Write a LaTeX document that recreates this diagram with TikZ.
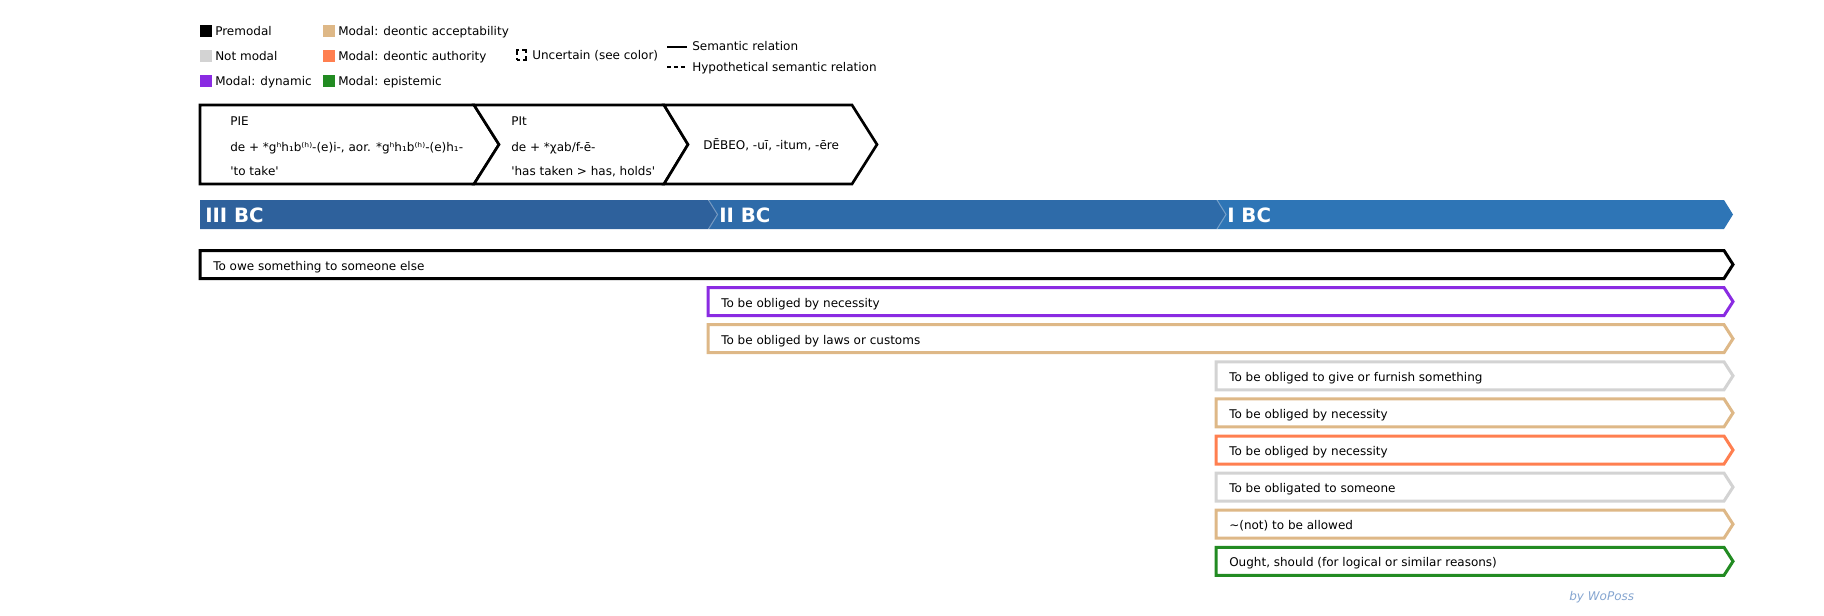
\documentclass[tikz,border=0pt]{standalone}
\usepackage{fontspec}
\setmainfont{DejaVu Sans}
\usepackage{xcolor}
\usepackage{tikz}

\definecolor{premodal}{HTML}{000000}
\definecolor{notmodal}{HTML}{D3D3D3}
\definecolor{dynamic}{HTML}{8A2BE2}
\definecolor{acceptab}{HTML}{DEB887}
\definecolor{authority}{HTML}{FF7F50}
\definecolor{epistemic}{HTML}{228B22}
\definecolor{centuryA}{HTML}{2E619C}
\definecolor{centuryB}{HTML}{2E6BA9}
\definecolor{centuryC}{HTML}{2E75B6}
\definecolor{woposs}{HTML}{85A5D0}

\begin{document}
\begin{tikzpicture}[
    x=0.75pt, y=-0.75pt,
    txt/.style={anchor=west, inner sep=0pt, text height=6.5pt, text depth=0pt, font=\fontsize{9}{10.8}\selectfont},
    swatch/.style={rectangle, minimum size=9pt, inner sep=0pt, outer sep=0pt},
    stage/.style={draw, line width=2pt, fill=white},
    span/.style={line width=2.25pt, fill=white},
    century/.style={anchor=west, inner sep=0pt, text=white, text height=10.7pt, text depth=0pt, font=\fontsize{14.8}{17.5}\selectfont\bfseries}
]
    \useasboundingbox (0,0) rectangle (1824,615);

    % legend
    \node[swatch, fill=premodal] (swpre) at (206,31) {};
    \node[swatch, fill=notmodal] (swnot) at (206,56) {};
    \node[swatch, fill=dynamic] (swdyn) at (206,81) {};
    \node[txt] (lgpre) at (215,31) {Premodal};
    \node[txt] (lgnot) at (215,56) {Not modal};
    \node[txt] (lgdyn) at (215,81) {Modal: dynamic};
    \node[swatch, fill=acceptab] (swacc) at (329,31) {};
    \node[swatch, fill=authority] (swauth) at (329,56) {};
    \node[swatch, fill=epistemic] (swepi) at (329,81) {};
    \node[txt] (lgacc) at (338,31) {Modal: deontic acceptability};
    \node[txt] (lgauth) at (338,56) {Modal: deontic authority};
    \node[txt] (lgepi) at (338,81) {Modal: epistemic};
    \node[swatch, draw, minimum size=7pt, line width=1.5pt, dash pattern=on 5.2pt off 2.2pt, dash phase=2.6pt] (swunc) at (521.5,55) {};
    \node[txt] (lgunc) at (532,55) {Uncertain (see color)};
    \coordinate (semline) at (667,46.5);
    \coordinate (hypline) at (667,67);
    \draw[line width=1.5pt] (semline) -- ++(20,0);
    \draw[line width=1.5pt, dash pattern=on 3pt off 2.2pt] (hypline) -- ++(20,0);
    \node[txt] (lgsem) at (692,46.5) {Semantic relation};
    \node[txt] (lghyp) at (692,67) {Hypothetical semantic relation};

    % etymology stages
    \draw[stage] (200,105) -- (474,105) -- (499,144.5) -- (474,184) -- (200,184) -- cycle;
    \draw[stage] (474,105) -- (664,105) -- (688,144.5) -- (664,184) -- (474,184) -- (499,144.5) -- cycle;
    \draw[stage] (664,105) -- (852,105) -- (877,144.5) -- (852,184) -- (664,184) -- (688,144.5) -- cycle;
    \node[txt] (pie) at (230,121.5) {PIE};
    \node[txt] (pieform) at (230,147) {de + *gʰh₁b⁽ʰ⁾-(e)i-, aor. *gʰh₁b⁽ʰ⁾-(e)h₁-};
    \node[txt] (piegloss) at (230,171.5) {\textquotesingle to take\textquotesingle};
    \node[txt] (pit) at (511,121.5) {PIt};
    \node[txt] (pitform) at (511,147) {de + *χab/f-ē-};
    \node[txt] (pitgloss) at (511,171.5) {\textquotesingle has taken > has, holds\textquotesingle};
    \node[txt] (debeo) at (703,145.5) {DĒBEO, -uī, -itum, -ēre};

    % centuries
    \fill[centuryC] (1217,200) -- (1724,200) -- (1733,214.5) -- (1724,229) -- (1217,229) -- cycle;
    \fill[centuryB] (708.5,200) -- (1217,200) -- (1226,214.5) -- (1217,229) -- (708.5,229) -- cycle;
    \fill[centuryA] (200,200) -- (708.5,200) -- (717.5,214.5) -- (708.5,229) -- (200,229) -- cycle;
    \draw[white, opacity=.35, line width=0.75pt] (708.5,200) -- (717.5,214.5) -- (708.5,229);
    \draw[white, opacity=.35, line width=0.75pt] (1217,200) -- (1226,214.5) -- (1217,229);
    \node[century] (bc3) at (205,215.5) {III BC};
    \node[century] (bc2) at (719,215.5) {II BC};
    \node[century] (bc1) at (1227,215.5) {I BC};

    % meanings
    \draw[span, draw=premodal] (200,250.5) -- (1724,250.5) -- (1733,264.5) -- (1724,278.5) -- (200,278.5) -- cycle;
    \draw[span, draw=dynamic] (708,287.6) -- (1724,287.6) -- (1733,301.6) -- (1724,315.6) -- (708,315.6) -- cycle;
    \draw[span, draw=acceptab] (708,324.7) -- (1724,324.7) -- (1733,338.7) -- (1724,352.7) -- (708,352.7) -- cycle;
    \draw[span, draw=notmodal] (1216,361.8) -- (1724,361.8) -- (1733,375.8) -- (1724,389.8) -- (1216,389.8) -- cycle;
    \draw[span, draw=acceptab] (1216,398.9) -- (1724,398.9) -- (1733,412.9) -- (1724,426.9) -- (1216,426.9) -- cycle;
    \draw[span, draw=authority] (1216,436) -- (1724,436) -- (1733,450) -- (1724,464) -- (1216,464) -- cycle;
    \draw[span, draw=notmodal] (1216,473.1) -- (1724,473.1) -- (1733,487.1) -- (1724,501.1) -- (1216,501.1) -- cycle;
    \draw[span, draw=acceptab] (1216,510.2) -- (1724,510.2) -- (1733,524.2) -- (1724,538.2) -- (1216,538.2) -- cycle;
    \draw[span, draw=epistemic] (1216,547.3) -- (1724,547.3) -- (1733,561.3) -- (1724,575.3) -- (1216,575.3) -- cycle;
    \node[txt] (owe) at (213,265.7) {To owe something to someone else};
    \node[txt] (necdyn) at (721,302.8) {To be obliged by necessity};
    \node[txt] (laws) at (721,339.9) {To be obliged by laws or customs};
    \node[txt] (furnish) at (1229,377) {To be obliged to give or furnish something};
    \node[txt] (necacc) at (1229,414.1) {To be obliged by necessity};
    \node[txt] (necauth) at (1229,451.2) {To be obliged by necessity};
    \node[txt] (obligated) at (1229,488.3) {To be obligated to someone};
    \node[txt] (allowed) at (1229,525.4) {\textasciitilde(not) to be allowed};
    \node[txt] (ought) at (1229,562.5) {Ought, should (for logical or similar reasons)};

    \node[txt, text=woposs, font=\fontsize{9}{10.8}\selectfont\itshape] (credit) at (1569,596.5) {by WoPoss};
\end{tikzpicture}
\end{document}
